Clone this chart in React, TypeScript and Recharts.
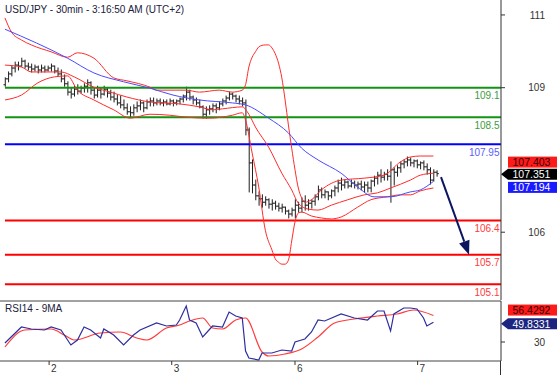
import React from "react";
import { ComposedChart, Bar, Line, XAxis, YAxis, ReferenceLine } from "recharts";

const FONT = "'Liberation Sans', Arial, Helvetica, sans-serif";

// ---------- price bars (30 min) ----------
const barOpen = [
  109.16, 109.28, 109.38, 109.5, 109.56, 109.54, 109.64, 109.54, 109.52, 109.48,
  109.52, 109.46, 109.5, 109.46, 109.5, 109.54, 109.44, 109.38, 109.28, 109.18,
  109.01, 108.97, 109.07, 109.03, 109.09, 109.13, 109.2, 109.05, 108.95, 109.05,
  108.97, 109.07, 108.99, 108.91, 108.87, 108.79, 108.75, 108.69, 108.61, 108.59,
  108.69, 108.73, 108.79, 108.69, 108.81, 108.83, 108.79, 108.83, 108.79, 108.81,
  108.77, 108.83, 108.79, 108.83, 108.87, 108.93, 109.01, 108.91, 108.85, 108.79,
  108.71, 108.56, 108.65, 108.67, 108.73, 108.69, 108.77, 108.83, 108.89, 108.97,
  108.93, 108.87, 108.83, 108.79, 108.24, 107.57, 107.12, 106.9, 106.84, 106.77,
  106.82, 106.73, 106.75, 106.69, 106.65, 106.67, 106.59, 106.53, 106.61, 106.71,
  106.65, 106.79, 106.71, 106.75, 106.79, 106.88, 107.02, 106.92, 106.98, 106.9,
  107.0, 107.06, 107.16, 107.12, 107.18, 107.1, 107.16, 107.12, 107.14, 107.08,
  107.12, 107.06, 107.2, 107.26, 107.32, 107.28, 107.34, 107.3, 107.43, 107.38,
  107.47, 107.55, 107.59, 107.63, 107.57, 107.61, 107.53, 107.57, 107.49, 107.43,
  107.22, 107.38,
];
const barHigh = [
  109.3, 109.42, 109.54, 109.62, 109.62, 109.7, 109.66, 109.6, 109.58, 109.56,
  109.54, 109.56, 109.54, 109.54, 109.58, 109.54, 109.5, 109.46, 109.36, 109.22,
  109.09, 109.13, 109.16, 109.13, 109.18, 109.26, 109.22, 109.09, 109.13, 109.09,
  109.13, 109.09, 109.05, 109.01, 108.95, 108.93, 108.85, 108.77, 108.71, 108.75,
  108.81, 108.85, 108.81, 108.85, 108.89, 108.89, 108.87, 108.87, 108.85, 108.85,
  108.87, 108.85, 108.85, 108.89, 108.95, 109.11, 109.05, 108.93, 108.89, 108.85,
  108.73, 108.71, 108.73, 108.77, 108.77, 108.81, 108.87, 108.93, 109.01, 108.99,
  108.95, 108.93, 108.89, 108.85, 108.28, 107.63, 107.22, 106.98, 106.92, 106.88,
  106.84, 106.82, 106.79, 106.75, 106.73, 106.67, 106.61, 106.65, 106.82, 106.77,
  106.86, 106.9, 106.82, 106.82, 106.92, 107.1, 107.06, 107.02, 106.98, 107.02,
  107.1, 107.22, 107.26, 107.22, 107.2, 107.22, 107.2, 107.18, 107.2, 107.18,
  107.18, 107.22, 107.3, 107.38, 107.43, 107.38, 107.43, 107.59, 107.47, 107.51,
  107.59, 107.63, 107.69, 107.67, 107.63, 107.63, 107.59, 107.61, 107.55, 107.47,
  107.43, 107.41,
];
const barLow = [
  109.13, 109.22, 109.34, 109.42, 109.46, 109.54, 109.5, 109.46, 109.42, 109.44,
  109.4, 109.42, 109.42, 109.44, 109.44, 109.4, 109.34, 109.22, 109.13, 108.95,
  108.89, 108.93, 108.97, 108.99, 109.01, 109.01, 108.97, 108.89, 108.91, 108.89,
  108.95, 108.91, 108.85, 108.81, 108.75, 108.69, 108.65, 108.56, 108.5, 108.54,
  108.61, 108.65, 108.61, 108.67, 108.73, 108.73, 108.75, 108.75, 108.73, 108.75,
  108.75, 108.73, 108.75, 108.77, 108.81, 108.85, 108.85, 108.77, 108.75, 108.69,
  108.48, 108.48, 108.56, 108.61, 108.59, 108.65, 108.73, 108.77, 108.85, 108.87,
  108.81, 108.77, 108.73, 108.14, 106.98, 106.96, 106.82, 106.71, 106.67, 106.71,
  106.65, 106.61, 106.63, 106.59, 106.57, 106.53, 106.45, 106.49, 106.45, 106.57,
  106.57, 106.61, 106.61, 106.65, 106.71, 106.82, 106.86, 106.86, 106.82, 106.86,
  106.9, 106.98, 107.02, 107.06, 107.06, 107.08, 107.06, 107.04, 107.02, 106.98,
  106.98, 106.98, 107.1, 107.14, 107.18, 107.22, 107.22, 106.77, 107.12, 107.3,
  107.38, 107.47, 107.51, 107.51, 107.49, 107.47, 107.45, 107.43, 107.34, 107.14,
  107.2, 107.3,
];
const barClose = [
  109.28, 109.38, 109.5, 109.56, 109.54, 109.64, 109.54, 109.52, 109.48, 109.52,
  109.46, 109.5, 109.46, 109.5, 109.54, 109.44, 109.38, 109.28, 109.18, 109.01,
  108.97, 109.07, 109.03, 109.09, 109.13, 109.2, 109.05, 108.95, 109.05, 108.97,
  109.07, 108.99, 108.91, 108.87, 108.79, 108.75, 108.69, 108.61, 108.59, 108.69,
  108.73, 108.79, 108.69, 108.81, 108.83, 108.79, 108.83, 108.79, 108.81, 108.77,
  108.83, 108.79, 108.83, 108.87, 108.93, 109.01, 108.91, 108.85, 108.79, 108.71,
  108.56, 108.65, 108.67, 108.73, 108.69, 108.77, 108.83, 108.89, 108.97, 108.93,
  108.87, 108.83, 108.79, 108.24, 107.57, 107.12, 106.9, 106.84, 106.77, 106.82,
  106.73, 106.75, 106.69, 106.65, 106.67, 106.59, 106.53, 106.61, 106.71, 106.65,
  106.79, 106.71, 106.75, 106.79, 106.88, 107.02, 106.92, 106.98, 106.9, 107.0,
  107.06, 107.16, 107.12, 107.18, 107.1, 107.16, 107.12, 107.14, 107.08, 107.12,
  107.06, 107.2, 107.26, 107.32, 107.28, 107.34, 107.3, 107.43, 107.38, 107.47,
  107.55, 107.59, 107.63, 107.57, 107.61, 107.53, 107.57, 107.49, 107.43, 107.22,
  107.38, 107.351,
];

// ---------- indicators: [bar index, value] ----------
const upperBand: [number, number][] = [
  [0, 110.52], [2, 110.23], [5, 110.07], [8, 109.97], [14, 109.83], [19, 109.72], [22, 109.81],
  [27, 109.7], [33, 109.3], [37, 109.24], [44, 109.11], [46, 109.05], [55, 109.05], [59, 109.01],
  [65, 109.05], [69, 109.01], [72, 109.05], [73, 109.16], [74, 109.52], [75, 109.72], [76, 109.83],
  [77, 109.93], [78, 109.96], [79, 109.97], [80, 109.97], [81, 109.91], [82, 109.79], [83, 109.6],
  [84, 109.3], [85, 108.85], [86, 108.34], [87, 107.87], [88, 107.43], [89, 107.06], [90, 106.86],
  [91, 106.77], [93, 106.82], [96, 107.02], [102, 107.22], [109, 107.26], [115, 107.32],
  [120, 107.59], [123, 107.69], [126, 107.71], [130, 107.71],
];
const middleBand: [number, number][] = [
  [0, 109.56], [5, 109.52], [8, 109.42], [17, 109.42], [21, 109.32], [27, 109.11], [32, 109.01],
  [37, 108.91], [44, 108.81], [53, 108.77], [59, 108.71], [63, 108.65], [66, 108.67], [72, 108.71],
  [74, 108.56], [76, 108.3], [80, 107.89], [84, 107.36], [87, 107.02], [89, 106.75], [92, 106.63],
  [95, 106.61], [99, 106.71], [104, 106.82], [109, 106.92], [113, 106.96], [117, 107.06],
  [123, 107.22], [126, 107.32], [130, 107.36],
];
const lowerBand: [number, number][] = [
  [0, 108.85], [5, 108.95], [10, 109.2], [15, 109.32], [19, 109.34], [22, 109.05], [27, 108.85],
  [33, 108.65], [38, 108.48], [44, 108.56], [50, 108.54], [55, 108.5], [62, 108.48], [69, 108.54],
  [72, 108.59], [73, 108.44], [75, 107.77], [77, 107.08], [79, 106.2], [81, 105.8], [82, 105.62],
  [83, 105.55], [84, 105.51], [85, 105.51], [86, 105.59], [87, 105.98], [88, 106.37], [89, 106.55],
  [90, 106.57], [93, 106.49], [96, 106.45], [99, 106.43], [102, 106.47], [107, 106.67],
  [111, 106.82], [116, 106.88], [120, 106.92], [123, 106.92], [126, 107.0], [130, 107.06],
];
const longMA: [number, number][] = [
  [0, 110.29], [19, 109.7], [27, 109.4], [36, 109.22], [44, 109.09], [51, 108.95], [59, 108.85],
  [69, 108.79], [73, 108.75], [80, 108.48], [86, 108.18], [90, 107.87], [95, 107.63], [102, 107.36],
  [107, 107.08], [112, 106.88], [117, 106.88], [123, 106.98], [126, 107.02], [130, 107.194],
];
const rsi14: [number, number][] = [
  [0, 29], [5, 45], [8, 43], [12, 42], [14, 45], [17, 42], [20, 27], [22, 32], [24, 45], [26, 42],
  [29, 34], [30, 43], [33, 37], [36, 27], [39, 37], [41, 42], [46, 49], [49, 46], [52, 47], [53, 52],
  [55, 66], [56, 52], [58, 49], [60, 35], [63, 46], [66, 45], [68, 60], [70, 56], [72, 54], [73, 21],
  [74, 14], [77, 12], [78, 19], [81, 19], [84, 22], [87, 21], [88, 30], [91, 33], [93, 40], [95, 52],
  [97, 51], [102, 58], [106, 54], [110, 52], [113, 61], [115, 61], [117, 41], [118, 58], [121, 64],
  [123, 64], [125, 63], [127, 54], [128, 46], [130, 49.8331],
];
const rsiMA9: [number, number][] = [
  [0, 25], [6, 42], [14, 43], [18, 37], [21, 32], [29, 39], [35, 40], [40, 34], [43, 32], [49, 44],
  [53, 47], [56, 51], [60, 54], [63, 44], [66, 43], [70, 52], [73, 54], [78, 20], [80, 16], [85, 18],
  [90, 23], [95, 35], [100, 49], [106, 53], [113, 56], [119, 58], [124, 62], [130, 56.4292],
];

// ---------- levels, ticks, tags ----------
const levelValues = [109.1, 108.5, 107.95, 106.4, 105.7, 105.1];
const levelLabels = ["109.1", "108.5", "107.95", "106.4", "105.7", "105.1"];
const levelColors = ["#139313", "#139313", "#0000ff", "#ff0000", "#ff0000", "#ff0000"];
const levelTextColors = ["#3d9b3d", "#3d9b3d", "#5b5bff", "#ff3b3b", "#ff3b3b", "#ff3b3b"];

const priceTicks = [110.58, 109.1, 106.16];
const priceTickLabels = ["111", "109", "106"];
const rsiTicks = [30];
const rsiTickLabels = ["30"];
const dayTicks = [13.4, 50.6, 88, 125.2];
const dayLabels = ["2", "3", "6", "7"];

const priceTagValues = [107.403, 107.351, 107.194];
const priceTagLabels = ["107.403", "107.351", "107.194"];
const rsiTagValues = [56.4292, 49.8331];
const rsiTagLabels = ["56.4292", "49.8331"];

const forecastArrow = [
  { x: 132.3, y: 107.28 },
  { x: 140.8, y: 105.7 },
];

const X_DOMAIN: [number, number] = [-1.5, 150.5];
const PRICE_DOMAIN: [number, number] = [104.781, 110.884];
const RSI_DOMAIN: [number, number] = [11, 71];

const bars = barOpen.map((o, i) => ({
  x: i,
  open: o,
  high: barHigh[i],
  low: barLow[i],
  close: barClose[i],
}));
const pts = (arr: [number, number][]) => arr.map(([x, v]) => ({ x, v }));

// ---------- custom renderers ----------
const OhlcShape = (props: any) => {
  const { x, y, width, height, payload } = props;
  if (x == null || y == null || !payload) return null;
  const cx = x + (width || 0) / 2;
  const top = Math.min(y, y + height);
  const bot = Math.max(y, y + height);
  const span = payload.high - payload.low;
  const toY = (v: number) => (span > 0 ? top + ((payload.high - v) / span) * (bot - top) : top);
  const yo = toY(payload.open);
  const yc = toY(payload.close);
  return (
    <g stroke="#1e1e1e" strokeWidth={1}>
      <line x1={cx} x2={cx} y1={top - 0.5} y2={bot + 0.5} />
      <line x1={cx - 1.8} x2={cx} y1={yo} y2={yo} />
      <line x1={cx} x2={cx + 1.8} y1={yc} y2={yc} />
    </g>
  );
};

const LevelLabel = (props: any) => {
  const { viewBox, text, color } = props;
  if (!viewBox) return null;
  return (
    <text
      x={viewBox.x + viewBox.width - 1.5}
      y={viewBox.y + 11.5}
      textAnchor="end"
      fontSize={10}
      fontFamily={FONT}
      fill={color}
    >
      {text}
    </text>
  );
};

const ValueTag = (props: any) => {
  const { viewBox, text, bg, fg, dy, arrow } = props;
  if (!viewBox) return null;
  const left = viewBox.x + viewBox.width;
  const cy = viewBox.y + dy;
  const h = 11;
  const bx = left + 7;
  const right = bx + 60;
  return (
    <g>
      {arrow ? (
        <polygon
          points={`${left},${cy} ${bx},${cy - h / 2} ${right},${cy - h / 2} ${right},${cy + h / 2} ${bx},${cy + h / 2}`}
          fill={bg}
        />
      ) : (
        <rect x={bx} y={cy - h / 2} width={right - bx} height={h} fill={bg} />
      )}
      <text x={bx + 4.5} y={cy + 4} fontSize={10.5} fontFamily={FONT} fill={fg}>
        {text}
      </text>
    </g>
  );
};

const ArrowShape = (props: any) => {
  const { x1, y1, x2, y2 } = props;
  if ([x1, y1, x2, y2].some((v) => v == null || isNaN(v))) return null;
  const ang = Math.atan2(y2 - y1, x2 - x1);
  const L = 14;
  const W = 5.5;
  const bx = x2 - L * Math.cos(ang);
  const by = y2 - L * Math.sin(ang);
  const px = -Math.sin(ang) * W;
  const py = Math.cos(ang) * W;
  return (
    <g>
      <line x1={x1} y1={y1} x2={bx} y2={by} stroke="#0b1660" strokeWidth={2} />
      <polygon points={`${x2},${y2} ${bx + px},${by + py} ${bx - px},${by - py}`} fill="#0b1660" />
    </g>
  );
};

const makeYTick = (values: number[], labels: string[]) => (props: any) => {
  const { x, y, payload } = props;
  const i = values.indexOf(payload.value);
  return (
    <g>
      <line x1={x} x2={x + 4} y1={y} y2={y} stroke="#333" />
      <text x={x + 44} y={y + 3.6} textAnchor="end" fontSize={10} fontFamily={FONT} fill="#333">
        {i >= 0 ? labels[i] : ""}
      </text>
    </g>
  );
};
const PriceTick = makeYTick(priceTicks, priceTickLabels);
const RsiTick = makeYTick(rsiTicks, rsiTickLabels);

const DayTick = (props: any) => {
  const { x, y, payload } = props;
  const i = dayTicks.indexOf(payload.value);
  return (
    <g>
      <line x1={x} x2={x} y1={y} y2={y + 4} stroke="#333" />
      <text x={x + 2} y={y + 10.8} fontSize={10} fontFamily={FONT} fill="#333">
        {i >= 0 ? dayLabels[i] : ""}
      </text>
    </g>
  );
};

const priceTagStyles = [
  { bg: "#ff1a1a", fg: "#3a0000", dy: -9, arrow: false },
  { bg: "#000000", fg: "#ffffff", dy: 0.5, arrow: true },
  { bg: "#1a1aff", fg: "#ffffff", dy: 6, arrow: false },
];
const rsiTagStyles = [
  { bg: "#ff1a1a", fg: "#3a0000", dy: -5.5, arrow: false },
  { bg: "#1c2680", fg: "#ffffff", dy: 1.5, arrow: true },
];

const lineCommon = {
  dataKey: "v",
  dot: false,
  activeDot: false,
  isAnimationActive: false,
  legendType: "none" as const,
};

export default function App() {
  return (
    <div
      style={{
        position: "absolute",
        left: 0,
        top: 0,
        width: 557,
        height: 375,
        background: "#ffffff",
        overflow: "hidden",
        fontFamily: FONT,
      }}
    >
      <div style={{ position: "absolute", left: 0, top: 0 }}>
        <ComposedChart width={557} height={300} data={bars} margin={{ top: 0, right: 0, bottom: 0, left: 0 }}>
          <XAxis dataKey="x" type="number" domain={X_DOMAIN} allowDataOverflow hide />
          <YAxis
            orientation="right"
            width={56}
            domain={PRICE_DOMAIN}
            allowDataOverflow
            ticks={priceTicks}
            interval={0}
            tick={<PriceTick />}
            tickLine={false}
            tickSize={0}
            tickMargin={0}
            axisLine={{ stroke: "#333" }}
          />
          {levelValues.map((v, i) => (
            <ReferenceLine
              key={"lvl" + i}
              segment={[
                { x: 0, y: v },
                { x: X_DOMAIN[1], y: v },
              ]}
              stroke={levelColors[i]}
              strokeWidth={2}
              label={<LevelLabel text={levelLabels[i]} color={levelTextColors[i]} />}
            />
          ))}
          <Line {...lineCommon} data={pts(upperBand)} type="monotone" stroke="#ff2b2b" strokeWidth={1} />
          <Line {...lineCommon} data={pts(middleBand)} type="monotone" stroke="#ff2b2b" strokeWidth={1} />
          <Line {...lineCommon} data={pts(lowerBand)} type="monotone" stroke="#ff2b2b" strokeWidth={1} />
          <Line {...lineCommon} data={pts(longMA)} type="monotone" stroke="#4a4aff" strokeWidth={1} />
          <Bar
            dataKey={(d: any) => [d.low, d.high]}
            barSize={2}
            shape={<OhlcShape />}
            activeBar={false}
            isAnimationActive={false}
          />
          <ReferenceLine
            segment={forecastArrow}
            stroke="#0b1660"
            strokeWidth={2}
            shape={(p: any) => <ArrowShape {...p} />}
          />
          {priceTagValues.map((v, i) => (
            <ReferenceLine
              key={"tag" + i}
              y={v}
              stroke="none"
              label={<ValueTag text={priceTagLabels[i]} {...priceTagStyles[i]} />}
            />
          ))}
        </ComposedChart>
      </div>

      <div style={{ position: "absolute", left: 0, top: 300 }}>
        <ComposedChart width={557} height={75} margin={{ top: 1, right: 0, bottom: 0, left: 0 }}>
          <XAxis
            dataKey="x"
            type="number"
            domain={X_DOMAIN}
            allowDataOverflow
            ticks={dayTicks}
            interval={0}
            height={14}
            tick={<DayTick />}
            tickLine={false}
            tickSize={0}
            tickMargin={0}
            axisLine={{ stroke: "#444" }}
          />
          <YAxis
            orientation="right"
            width={56}
            domain={RSI_DOMAIN}
            allowDataOverflow
            ticks={rsiTicks}
            interval={0}
            tick={<RsiTick />}
            tickLine={false}
            tickSize={0}
            tickMargin={0}
            axisLine={{ stroke: "#333" }}
          />
          <ReferenceLine y={RSI_DOMAIN[1]} stroke="#444" />
          <Line {...lineCommon} data={pts(rsiMA9)} type="monotone" stroke="#ff3b3b" strokeWidth={1.2} />
          <Line {...lineCommon} data={pts(rsi14)} type="linear" stroke="#2e2e9e" strokeWidth={1.2} />
          {rsiTagValues.map((v, i) => (
            <ReferenceLine
              key={"rtag" + i}
              y={v}
              stroke="none"
              label={<ValueTag text={rsiTagLabels[i]} {...rsiTagStyles[i]} />}
            />
          ))}
        </ComposedChart>
      </div>

      <div style={{ position: "absolute", left: 500, top: 361, width: 1, height: 14, background: "#333" }} />

      <div style={{ position: "absolute", left: 5, top: 4, fontSize: 10, lineHeight: "12px", color: "#20203c", whiteSpace: "nowrap" }}>
        USD/JPY - 30min - 3:16:50 AM (UTC+2)
      </div>
      <div style={{ position: "absolute", left: 5, top: 303, fontSize: 10, lineHeight: "12px", color: "#20203c", whiteSpace: "nowrap" }}>
        RSI14 - 9MA
      </div>
    </div>
  );
}
